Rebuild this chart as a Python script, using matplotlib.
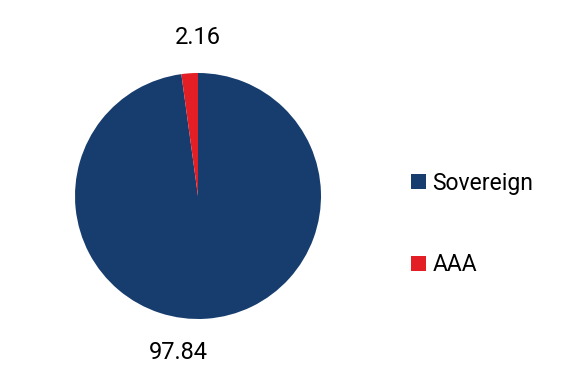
import matplotlib.pyplot as plt
from matplotlib.patches import Patch

plt.rcParams['font.family'] = ['Roboto', 'DejaVu Sans']

# Rating split (%)
categories = ['Sovereign', 'AAA']
values = [97.84, 2.16]
colors = ['#173d6e', '#e31e24']

fig = plt.figure(figsize=(5.78, 3.92), dpi=100)
ax = fig.add_axes([75 / 578, 73 / 392, 246 / 578, 246 / 392])

ax.pie(values, colors=colors, startangle=90, counterclock=False,
       radius=1, wedgeprops={'linewidth': 0})
ax.set_xlim(-1, 1)
ax.set_ylim(-1, 1)
ax.set_aspect('equal')
ax.axis('off')

# value labels
ax.text(0.0, 1.29, f'{values[1]:.2f}', ha='center', va='center', fontsize=17)
ax.text(-0.16, -1.27, f'{values[0]:.2f}', ha='center', va='center', fontsize=17)

handles = [Patch(facecolor=c, edgecolor='none') for c in colors]
fig.legend(handles, categories, loc='center left', bbox_to_anchor=(390 / 578, 168 / 392),
           frameon=False, fontsize=16.5, labelspacing=2.55,
           handlelength=0.65, handleheight=0.65, handletextpad=0.3)

fig.savefig('out.png', dpi=100)
